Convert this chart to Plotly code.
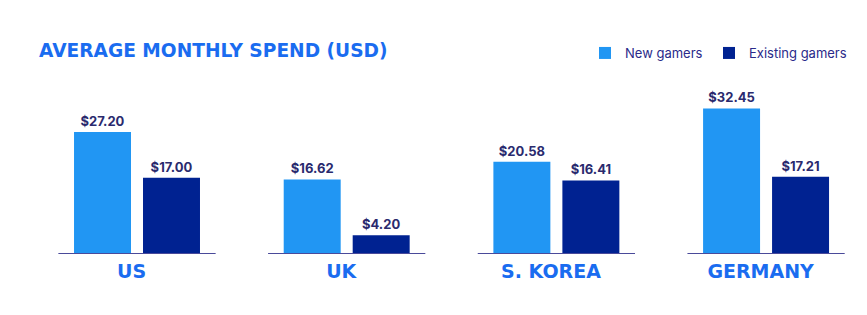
import plotly.graph_objects as go

categories = ["US", "UK", "S. KOREA", "GERMANY"]
new_gamers = [27.20, 16.62, 20.58, 32.45]
existing_gamers = [17.00, 4.20, 16.41, 17.21]
series_names = ["New gamers", "Existing gamers"]

C_NEW = "#2196F3"
C_EXIST = "#002291"
C_LABEL = "#2a2a6e"
C_TITLE = "#1a6cf0"
C_LINE = "#4a4a9a"

xs = list(range(len(categories)))

fig = go.Figure()
for name, vals, col, lg in [(series_names[0], new_gamers, C_NEW, "legend"),
                            (series_names[1], existing_gamers, C_EXIST, "legend2")]:
    fig.add_trace(go.Bar(
        x=xs, y=vals, name=name, marker=dict(color=col, line=dict(width=0)),
        text=[f"${v:.2f}" for v in vals], textposition="outside",
        textfont=dict(family="Inter", size=13, color=C_LABEL, weight=700),
        cliponaxis=False, legend=lg,
    ))

shapes = []
for i in xs:
    shapes.append(dict(type="line", xref="x", yref="y", x0=i - 0.375, x1=i + 0.375,
                       y0=0, y1=0, line=dict(color=C_LINE, width=2)))

legend_common = dict(orientation="h", y=1 - 53/315, yanchor="middle",
                     yref="container", xref="container",
                     font=dict(family="Inter", size=13, color="#2a2a8a"),
                     bgcolor="rgba(0,0,0,0)")

fig.update_layout(
    width=867, height=315,
    margin=dict(l=20, r=20, t=90, b=61),
    paper_bgcolor="white", plot_bgcolor="white",
    barmode="group", bargap=0.342, bargroupgap=0.174,
    shapes=shapes,
    title=dict(text="AVERAGE MONTHLY SPEND (USD)", x=39/867, xanchor="left",
               y=1 - 50/315, yanchor="middle",
               font=dict(family="DejaVu Sans", size=18.6, color=C_TITLE, weight=700)),
    legend=dict(x=585/867, xanchor="left", **legend_common),
    legend2=dict(x=709/867, xanchor="left", **legend_common),
    xaxis=dict(range=[-0.558, 3.386], tickvals=[i - 0.026 for i in xs], ticktext=categories,
               showgrid=False, zeroline=False, showline=False, ticks="",
               ticklabelstandoff=4,
               tickfont=dict(family="DejaVu Sans", size=19, color=C_TITLE, weight=700)),
    yaxis=dict(range=[0, 164/4.485], visible=False),
    showlegend=True,
)

fig.write_html("out.html")
